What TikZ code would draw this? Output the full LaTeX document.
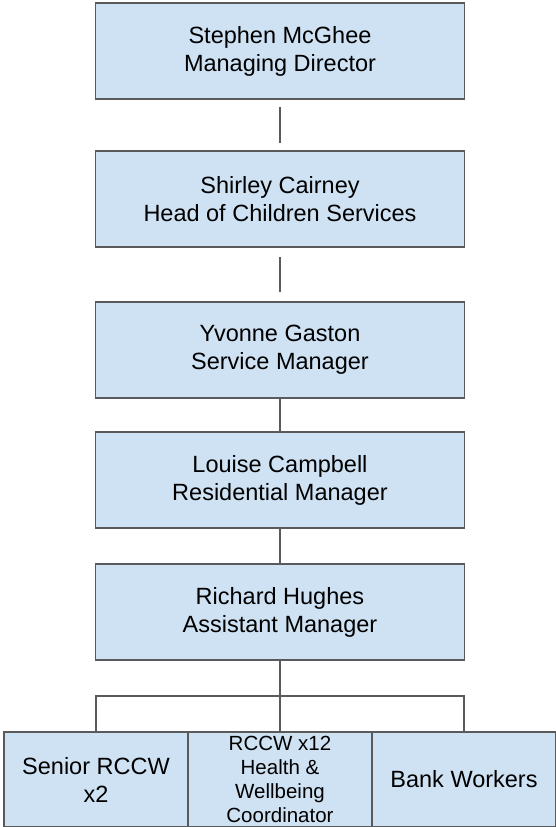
\documentclass[tikz,border=0pt]{standalone}
\usepackage{fontspec}
\setmainfont{Liberation Sans}
\usetikzlibrary{positioning}
\definecolor{boxfill}{HTML}{CFE2F3}
\definecolor{boxline}{HTML}{5A5A5A}
\tikzset{
  box/.style={draw=boxline, line width=1.2pt, fill=boxfill, minimum width=369pt, minimum height=96pt, outer sep=0pt, align=center, font=\fontsize{23.5}{28}\selectfont},
  low/.style={box, minimum width=184pt, minimum height=95pt, inner ysep=0pt},
  link/.style={draw=boxline, line width=1.2pt}
}
\begin{document}
\begin{tikzpicture}
\useasboundingbox (0,0) rectangle (556pt,-827pt);
\node(md)[box] at (280pt,-51pt){Stephen McGhee\\Managing Director};
\node(hcs)[box, below = 52pt of md]{Shirley Cairney\\Head of Children Services};
\node(sm)[box, below = 55pt of hcs]{Yvonne Gaston\\Service Manager};
\node(rm)[box, below = 34pt of sm]{Louise Campbell\\Residential Manager};
\node(am)[box, below = 36pt of rm]{Richard Hughes\\Assistant Manager};
\node(rccw)[low, below = 72pt of am, font=\fontsize{20.5}{24}\selectfont]{RCCW x12\\Health \&\\Wellbeing\\Coordinator};
\node(senior)[low, left = 0pt of rccw]{Senior RCCW\\x2};
\node(bank)[low, right = 0pt of rccw]{Bank Workers};
\draw[link, shorten <=8pt, shorten >=8pt] (md) -- (hcs);
\draw[link, shorten <=10pt, shorten >=10pt] (hcs) -- (sm);
\draw[link] (sm) -- (rm);
\draw[link] (rm) -- (am);
\draw[link] (am) -- (rccw);
\draw[link] (senior.north) -- ++(0,36pt) -| (bank.north);
\end{tikzpicture}
\end{document}
